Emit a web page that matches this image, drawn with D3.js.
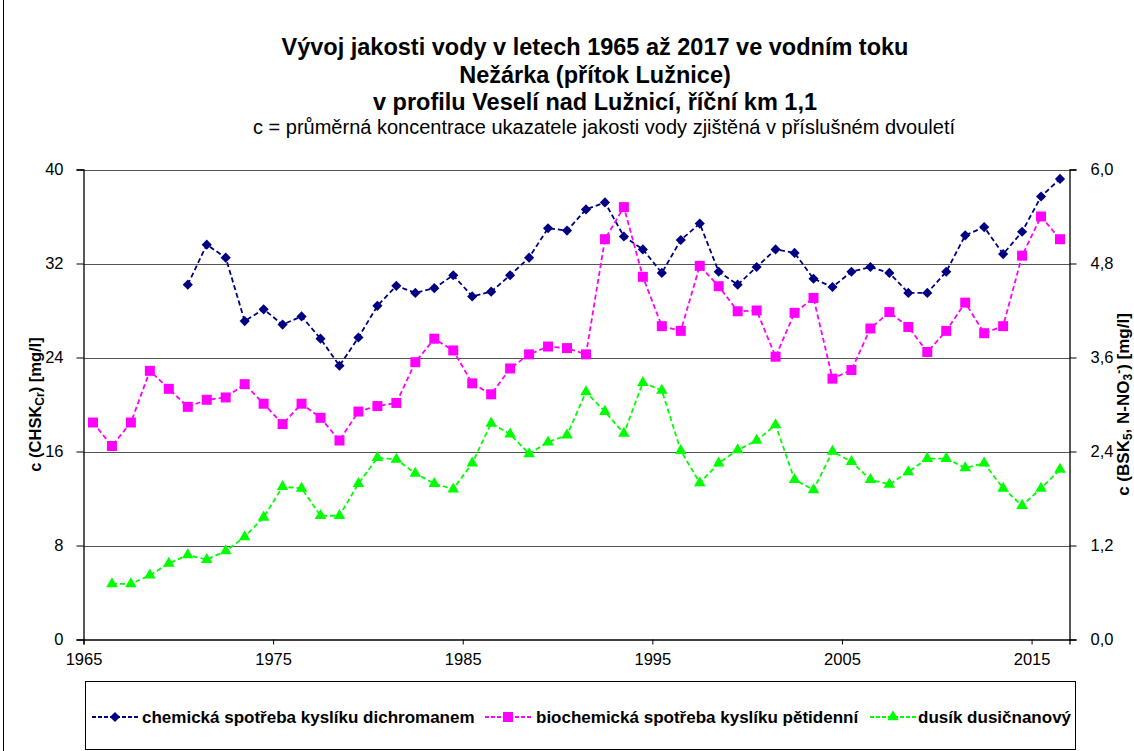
<!DOCTYPE html>
<html>
<head>
<meta charset="utf-8">
<script src="https://cdn.jsdelivr.net/npm/d3@7"></script>
<style>
  html, body { margin: 0; padding: 0; background: #fff; }
  svg { display: block; font-family: "Liberation Sans", Arial, sans-serif; }
</style>
</head>
<body>
<svg id="chart" width="1134" height="751"></svg>
<script>
// Two-year averages, plotted at the middle of each pair of years
const yearsBSK = d3.range(1965.5, 2017, 1);          // 1965.5 … 2016.5
const yearsNO3 = d3.range(1966.5, 2017, 1);          // 1966.5 … 2016.5
const yearsCHSK = d3.range(1970.5, 2017, 1);         // 1970.5 … 2016.5

// CHSK-Cr [mg/l] – left axis
const chsk = [30.2, 33.6, 32.5, 27.1, 28.1, 26.8, 27.5, 25.6, 23.3, 25.7,
              28.4, 30.1, 29.5, 29.9, 31.0, 29.2, 29.6, 31.0, 32.5, 35.0,
              34.8, 36.6, 37.2, 34.3, 33.2, 31.2, 34.0, 35.4, 31.3, 30.2,
              31.7, 33.2, 32.9, 30.7, 30.0, 31.3, 31.7, 31.2, 29.5, 29.5,
              31.3, 34.4, 35.1, 32.8, 34.7, 37.7, 39.2];

// BSK5 [mg/l] – right axis
const bsk = [2.77, 2.47, 2.77, 3.43, 3.20, 2.97, 3.06, 3.09, 3.26, 3.01,
             2.75, 3.01, 2.83, 2.54, 2.91, 2.98, 3.02, 3.54, 3.84, 3.69,
             3.27, 3.13, 3.46, 3.64, 3.74, 3.72, 3.64, 5.11, 5.52, 4.63,
             4.00, 3.94, 4.77, 4.51, 4.19, 4.20, 3.61, 4.17, 4.36, 3.33,
             3.44, 3.97, 4.18, 3.99, 3.67, 3.94, 4.30, 3.91, 4.00, 4.90,
             5.40, 5.11];

// N-NO3 [mg/l] – right axis
const no3 = [0.71, 0.71, 0.82, 0.97, 1.08, 1.02, 1.13, 1.31, 1.56, 1.95,
             1.93, 1.58, 1.58, 1.99, 2.32, 2.30, 2.12, 1.99, 1.92, 2.25,
             2.76, 2.62, 2.37, 2.52, 2.61, 3.16, 2.91, 2.63, 3.28, 3.18,
             2.41, 2.00, 2.25, 2.42, 2.54, 2.74, 2.04, 1.91, 2.40, 2.27,
             2.04, 1.98, 2.14, 2.31, 2.31, 2.19, 2.25, 1.93, 1.71, 1.93,
             2.17];

const xTicks = [1965, 1975, 1985, 1995, 2005, 2015];
const leftTicks = [0, 8, 16, 24, 32, 40];
const rightTicks = [0, 1.2, 2.4, 3.6, 4.8, 6.0];

const seriesNames = [
  "chemická spotřeba kyslíku dichromanem",
  "biochemická spotřeba kyslíku pětidenní",
  "dusík dusičnanový"
];
const titleLines = [
  "Vývoj jakosti vody v letech 1965 až 2017 ve vodním toku",
  "Nežárka (přítok Lužnice)",
  "v profilu Veselí nad Lužnicí, říční km 1,1"
];
const subtitle = "c = průměrná koncentrace ukazatele jakosti vody zjištěná v příslušném dvouletí";

const svg = d3.select("#chart");
const plot = { left: 83.5, right: 1069.5, top: 169.5, bottom: 639.5 };

const x = d3.scaleLinear().domain([1965, 2017]).range([plot.left, plot.right]);
const yL = d3.scaleLinear().domain([0, 40]).range([plot.bottom, plot.top]);
const yR = d3.scaleLinear().domain([0, 6]).range([plot.bottom, plot.top]);

// outer frame edge
svg.append("line").attr("x1", 3.5).attr("x2", 3.5).attr("y1", 0).attr("y2", 751)
  .attr("stroke", "#000").attr("stroke-width", 1);

// titles
const tg = svg.append("g").attr("text-anchor", "middle").attr("fill", "#000");
titleLines.forEach((t, i) => {
  tg.append("text").attr("x", 595).attr("y", 55 + i * 27.5)
    .attr("font-size", 23.5).attr("font-weight", "bold").text(t);
});
tg.append("text").attr("x", 604).attr("y", 134).attr("font-size", 20).text(subtitle);

// horizontal gridlines
svg.append("g").selectAll("line").data(leftTicks.filter(d => d > 0)).join("line")
  .attr("x1", plot.left).attr("x2", plot.right)
  .attr("y1", d => Math.round(yL(d)) + 0.5).attr("y2", d => Math.round(yL(d)) + 0.5)
  .attr("stroke", "#555").attr("stroke-width", 1.2);

// axes
const axisFont = g => g.selectAll("text").attr("font-size", 16.5).attr("fill", "#000")
  .attr("font-family", "'Liberation Sans', Arial, sans-serif");

const gL = svg.append("g").attr("transform", `translate(${plot.left},0)`)
  .call(d3.axisLeft(yL).tickValues(leftTicks).tickSize(7).tickPadding(13).tickFormat(d3.format("d")));
gL.call(axisFont);

const gR = svg.append("g").attr("transform", `translate(${plot.right},0)`)
  .call(d3.axisRight(yR).tickValues(rightTicks).tickSize(7).tickPadding(14)
    .tickFormat(d => d3.format(".1f")(d).replace(".", ",")));
gR.call(axisFont);

const gB = svg.append("g").attr("transform", `translate(0,${plot.bottom})`)
  .call(d3.axisBottom(x).tickValues(xTicks).tickSize(5).tickPadding(9).tickFormat(d3.format("d")));
gB.call(axisFont);

[gL, gR, gB].forEach(g => {
  g.select(".domain").attr("stroke", "#000").attr("stroke-width", 1.3);
  g.selectAll(".tick line").attr("stroke", "#000");
});

// axis titles
svg.append("text")
  .attr("transform", `translate(41,${(plot.top + plot.bottom) / 2}) rotate(-90)`)
  .attr("text-anchor", "middle").attr("font-size", 16.5).attr("font-weight", "bold")
  .call(t => {
    t.append("tspan").text("c (CHSK");
    t.append("tspan").attr("font-size", 12).attr("dy", 3).text("Cr");
    t.append("tspan").attr("dy", -3).text(") [mg/l]");
  });

svg.append("text")
  .attr("transform", `translate(1129,${(plot.top + plot.bottom) / 2}) rotate(-90)`)
  .attr("text-anchor", "middle").attr("font-size", 17).attr("font-weight", "bold")
  .call(t => {
    t.append("tspan").text("c (BSK");
    t.append("tspan").attr("font-size", 12).attr("dy", 3).text("5");
    t.append("tspan").attr("dy", -3).text(", N-NO");
    t.append("tspan").attr("font-size", 12).attr("dy", 3).text("3");
    t.append("tspan").attr("font-size", 12).attr("dy", -9).text("-");
    t.append("tspan").attr("dy", 6).text(") [mg/l]");
  });

// series
const series = [
  { xs: yearsCHSK, ys: chsk, y: yL, color: "#000080", marker: "diamond" },
  { xs: yearsBSK, ys: bsk, y: yR, color: "#FF00FF", marker: "square" },
  { xs: yearsNO3, ys: no3, y: yR, color: "#00FF00", marker: "triangle" }
];

const symbolOf = {
  diamond: d3.symbol().type(d3.symbolDiamond2).size(66),
  square: d3.symbol().type(d3.symbolSquare).size(100),
  triangle: d3.symbol().type(d3.symbolTriangle).size(58)
};

series.forEach(s => {
  const pts = s.xs.map((xv, i) => [x(xv), s.y(s.ys[i])]);
  svg.append("path").attr("d", d3.line()(pts))
    .attr("fill", "none").attr("stroke", s.color).attr("stroke-width", 1.8)
    .attr("stroke-dasharray", "5,3");
  svg.append("g").selectAll("path").data(pts).join("path")
    .attr("transform", p => `translate(${p[0]},${p[1]})`)
    .attr("d", symbolOf[s.marker]())
    .attr("fill", s.color);
});

// legend
const lg = svg.append("g");
lg.append("rect").attr("x", 85.5).attr("y", 681.5).attr("width", 990).attr("height", 68)
  .attr("fill", "#fff").attr("stroke", "#000").attr("stroke-width", 1);
const legendItems = [
  { x0: 92, tx: 142 },
  { x0: 485, tx: 536 },
  { x0: 870, tx: 918 }
];
legendItems.forEach((it, i) => {
  const s = series[i];
  const ly = 717;
  lg.append("line").attr("x1", it.x0).attr("x2", it.x0 + 46).attr("y1", ly).attr("y2", ly)
    .attr("stroke", s.color).attr("stroke-width", 1.8).attr("stroke-dasharray", "4,2");
  lg.append("path").attr("transform", `translate(${it.x0 + 23},${ly})`)
    .attr("d", symbolOf[s.marker]()).attr("fill", s.color);
  lg.append("text").attr("x", it.tx).attr("y", ly + 6).attr("font-size", 17)
    .attr("font-weight", "bold").text(seriesNames[i]);
});
</script>
</body>
</html>
